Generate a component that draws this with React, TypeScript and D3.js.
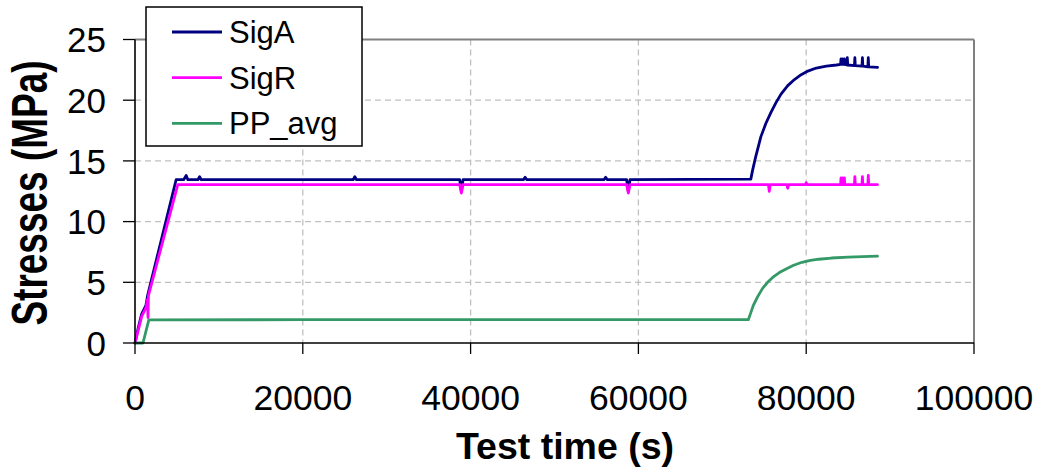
import React from "react";
import * as d3 from "d3";

// Stress readings over test time (s → MPa)
const sigATime = [
  0, 400, 800, 1300, 1500, 4900, 5800, 6100, 6300, 7500, 7700, 7900,
  26000, 26200, 26400, 38700, 38900, 39100, 46300, 46500, 46700,
  55900, 56100, 56300, 58600, 58800, 59000, 73400, 73600, 74000, 74600,
  75200, 75800, 76400, 77000, 77800, 78600, 79400, 80200, 81200, 82400,
  83600, 84100, 84150, 84200, 84300, 84350, 84400, 84500, 84550, 84600,
  84850, 84900, 84950, 85750, 85800, 85850, 86650, 86700, 86750, 87350,
  87400, 87450, 88000, 88500,
];
const sigAValue = [
  0, 1.3, 2.4, 3.1, 3.9, 13.45, 13.45, 13.8, 13.45, 13.45, 13.7, 13.45,
  13.45, 13.7, 13.45, 13.45, 12.5, 13.45, 13.45, 13.65, 13.45,
  13.45, 13.65, 13.45, 13.45, 12.5, 13.45, 13.5, 14.2, 15.4, 17.0,
  18.1, 19.0, 19.8, 20.5, 21.2, 21.7, 22.1, 22.4, 22.65, 22.8,
  22.9, 22.95, 23.4, 22.95, 22.95, 23.4, 22.95, 22.95, 23.4, 22.95,
  22.9, 23.5, 22.9, 22.85, 23.5, 22.85, 22.8, 23.5, 22.8, 22.75,
  23.5, 22.75, 22.72, 22.7,
];

const sigRTime = [
  0, 400, 800, 1300, 1500, 1550, 1600, 5100, 38700, 38900, 39100,
  58600, 58800, 59000, 75500, 75600, 75700, 77700, 77800, 77900,
  79900, 80000, 80100, 84100, 84150, 84200, 84300, 84350, 84400,
  84500, 84550, 84600, 85750, 85800, 85850, 86650, 86700, 86750,
  87350, 87400, 87450, 88500,
];
const sigRValue = [
  0, 1.1, 2.2, 2.9, 3.6, 2.1, 3.9, 13.05, 13.05, 12.35, 13.05,
  13.05, 12.35, 13.05, 13.05, 12.5, 13.05, 13.05, 12.75, 13.05,
  13.05, 13.2, 13.05, 13.05, 13.6, 13.05, 13.05, 13.6, 13.05,
  13.05, 13.6, 13.05, 13.05, 13.7, 13.05, 13.05, 13.7, 13.05,
  13.05, 13.8, 13.05, 13.05,
];

const ppTime = [
  0, 950, 1650, 20000, 40000, 60000, 73100, 73400, 73700, 74200,
  74800, 75400, 76000, 76800, 77600, 78500, 79500, 80500, 81500,
  83000, 85000, 88500,
];
const ppValue = [
  0, 0, 1.9, 1.92, 1.93, 1.93, 1.92, 2.5, 3.1, 3.8,
  4.5, 5.0, 5.4, 5.8, 6.1, 6.4, 6.65, 6.8, 6.9,
  7.0, 7.08, 7.15,
];

const xTicks = [0, 20000, 40000, 60000, 80000, 100000];
const yTicks = [0, 5, 10, 15, 20, 25];

const series = [
  { name: "SigA", color: "#000080", time: sigATime, value: sigAValue },
  { name: "SigR", color: "#FF00FF", time: sigRTime, value: sigRValue },
  { name: "PP_avg", color: "#339966", time: ppTime, value: ppValue },
];

const W = 1041;
const H = 470;
const plot = { left: 135, right: 974, top: 39.5, bottom: 343 };
const FONT = "'Liberation Sans', Arial, Helvetica, sans-serif";

export default function App() {
  const x = d3.scaleLinear().domain([0, 100000]).range([plot.left, plot.right]);
  const y = d3.scaleLinear().domain([0, 25]).range([plot.bottom, plot.top]);

  const line = d3
    .line<[number, number]>()
    .x((d) => x(d[0]))
    .y((d) => y(d[1]));

  return (
    <svg
      width={W}
      height={H}
      style={{ position: "absolute", left: 0, top: 0, background: "#fff" }}
      fontFamily={FONT}
    >
      {/* grid */}
      {yTicks
        .filter((t) => t > 0 && t < 25)
        .map((t) => (
          <line
            key={"gy" + t}
            x1={plot.left}
            x2={plot.right}
            y1={y(t)}
            y2={y(t)}
            stroke="#c0c0c0"
            strokeWidth={1.3}
            strokeDasharray="6,4"
          />
        ))}
      {xTicks
        .filter((t) => t > 0 && t < 100000)
        .map((t) => (
          <line
            key={"gx" + t}
            x1={x(t)}
            x2={x(t)}
            y1={plot.top}
            y2={plot.bottom}
            stroke="#c0c0c0"
            strokeWidth={1.3}
            strokeDasharray="6,4"
          />
        ))}

      {/* frame: top and right in grey */}
      <line x1={plot.left} x2={plot.right} y1={plot.top} y2={plot.top} stroke="#808080" strokeWidth={2} />
      <line x1={plot.right} x2={plot.right} y1={plot.top} y2={plot.bottom} stroke="#808080" strokeWidth={2} />

      {/* data */}
      {series.map((s) => (
        <path
          key={s.name}
          d={line(s.time.map((t, i) => [t, s.value[i]] as [number, number])) || ""}
          fill="none"
          stroke={s.color}
          strokeWidth={2.8}
          strokeLinejoin="round"
          strokeLinecap="round"
        />
      ))}

      {/* axes */}
      <line x1={plot.left} x2={plot.left} y1={plot.top} y2={plot.bottom} stroke="#000" strokeWidth={1.6} />
      <line x1={plot.left} x2={plot.right} y1={plot.bottom} y2={plot.bottom} stroke="#000" strokeWidth={1.6} />
      {yTicks.map((t) => (
        <g key={"yt" + t}>
          <line x1={plot.left - 12} x2={plot.left} y1={y(t)} y2={y(t)} stroke="#000" strokeWidth={1.3} />
          <text x={106} y={y(t)} dy="0.36em" textAnchor="end" fontSize={35} fill="#000">
            {t}
          </text>
        </g>
      ))}
      {xTicks.map((t) => (
        <g key={"xt" + t}>
          <line x1={x(t)} x2={x(t)} y1={plot.bottom} y2={plot.bottom + 11} stroke="#000" strokeWidth={1.3} />
          <text x={x(t)} y={410} textAnchor="middle" fontSize={35.5} fill="#000">
            {t}
          </text>
        </g>
      ))}

      {/* axis titles */}
      <text x={565} y={459} textAnchor="middle" fontSize={37.5} fontWeight="bold" fill="#000">
        Test time (s)
      </text>
      <text
        transform="translate(47,193) rotate(-90) scale(1,1.35)"
        textAnchor="middle"
        fontSize={37}
        fontWeight="bold"
        fill="#000"
      >
        Stresses (MPa)
      </text>

      {/* legend */}
      <rect x={146} y={7} width={216} height={139} fill="#fff" stroke="#000" strokeWidth={1.5} />
      {series.map((s, i) => (
        <g key={"lg" + s.name}>
          <line x1={172} x2={222} y1={32 + i * 45.7} y2={32 + i * 45.7} stroke={s.color} strokeWidth={2.8} />
          <text x={229} y={32 + i * 45.7} dy="0.35em" fontSize={31} fill="#000">
            {s.name}
          </text>
        </g>
      ))}
    </svg>
  );
}
